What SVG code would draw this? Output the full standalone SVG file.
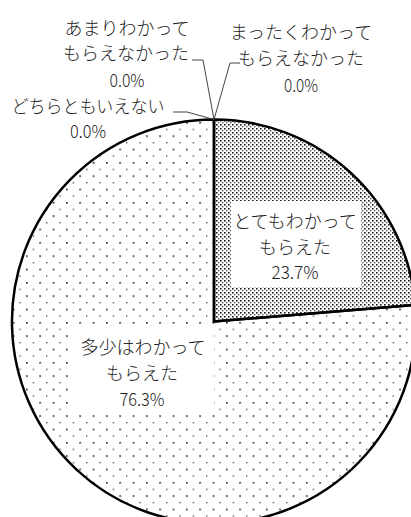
<svg xmlns="http://www.w3.org/2000/svg" width="411" height="517" viewBox="0 0 411 517">
<defs>
<pattern id="sparse" patternUnits="userSpaceOnUse" x="106" y="202" width="13.33" height="13.33">
<rect x="0" y="0" width="1.6" height="1.6" fill="#222"/>
<rect x="6.67" y="6.67" width="1.4" height="1.4" fill="#555"/>
</pattern>
<pattern id="dense" patternUnits="userSpaceOnUse" width="4" height="4">
<rect x="0" y="0" width="1.6" height="1.6" fill="#1a1a1a"/>
<rect x="2" y="2" width="1.4" height="1.4" fill="#555"/>
</pattern>
<style>
text{font-family:"Noto Sans CJK JP","Noto Sans CJK SC",sans-serif;font-size:18px;font-weight:300;fill:#222;text-anchor:middle}
.slice{stroke:#000;stroke-width:2.5;stroke-linejoin:miter}
.lead{fill:none;stroke:#444;stroke-width:1}
.box{fill:#fff}
</style>
</defs>
<rect width="411" height="517" fill="#fff"/>
<g id="slice-very">
<path class="slice" fill="url(#dense)" d="M214,321.5 L214,119.5 A202,202 0 0 1 415.3,305 Z"/>
</g>
<g id="slice-somewhat">
<path class="slice" fill="url(#sparse)" d="M214,321.5 L415.3,305 A202,202 0 1 1 214,119.5 Z"/>
</g>
<g id="label-very">
<rect class="box" x="231" y="201" width="130" height="86"/>
<text x="295" y="228">とてもわかって</text>
<text x="295" y="254">もらえた</text>
<text x="295" y="279" textLength="47" lengthAdjust="spacingAndGlyphs">23.7%</text>
</g>
<g id="label-somewhat">
<rect class="box" x="68" y="328" width="146" height="86"/>
<text x="143" y="354">多少はわかって</text>
<text x="142" y="380">もらえた</text>
<text x="142" y="406" textLength="45" lengthAdjust="spacingAndGlyphs">76.3%</text>
</g>
<g id="label-notmuch">
<text x="127" y="35">あまりわかって</text>
<text x="126" y="60">もらえなかった</text>
<text x="127" y="87" textLength="35" lengthAdjust="spacingAndGlyphs">0.0%</text>
</g>
<g id="label-notatall">
<text x="301" y="39">まったくわかって</text>
<text x="301" y="65">もらえなかった</text>
<text x="301" y="92" textLength="34" lengthAdjust="spacingAndGlyphs">0.0%</text>
</g>
<g id="label-neither">
<text x="88" y="113" textLength="153" lengthAdjust="spacingAndGlyphs">どちらともいえない</text>
<text x="88" y="138" textLength="36" lengthAdjust="spacingAndGlyphs">0.0%</text>
</g>
<g id="connectors">
<polyline class="lead" points="192,60 203,60 214,119.5"/>
<polyline class="lead" points="240,63 230,63 214,119.5"/>
<polyline class="lead" points="173,112 187,112 214,119.5"/>
</g>
</svg>
